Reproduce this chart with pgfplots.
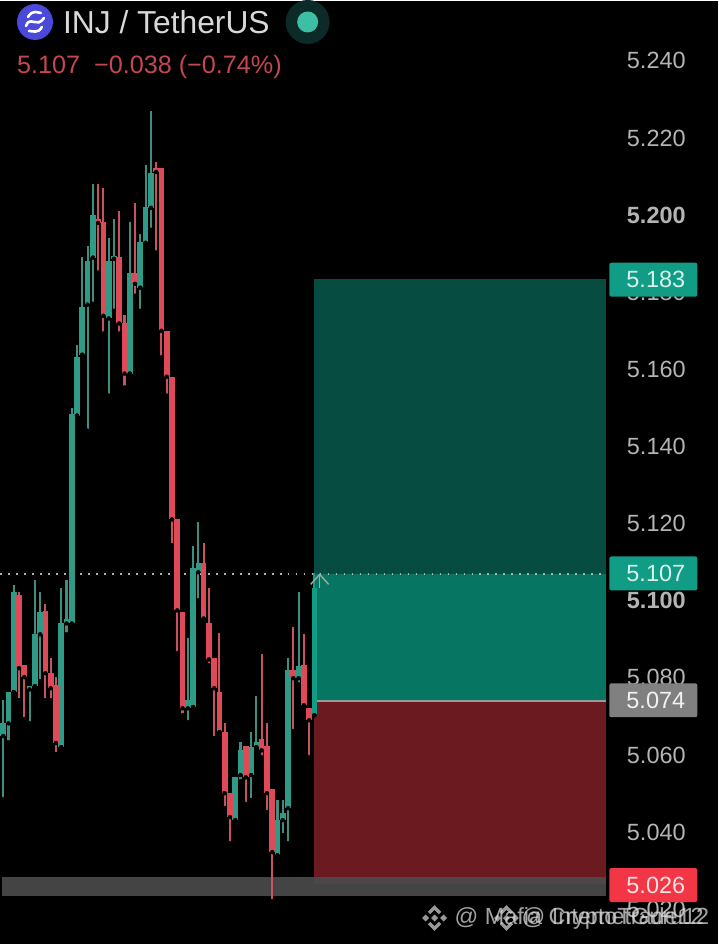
\documentclass[border=0pt]{standalone}
\usepackage{fontspec}
\setmainfont{Liberation Sans}
\usepackage{pgfplots}
\usepackage{pgfplotstable}
\pgfplotsset{compat=1.18}
\definecolor{upB}{HTML}{2F9A86}
\definecolor{upW}{HTML}{3F8F7E}
\definecolor{dnB}{HTML}{DE4A58}
\definecolor{dnW}{HTML}{C9525E}
\definecolor{tpDark}{HTML}{064C40}
\definecolor{tpMid}{HTML}{067562}
\definecolor{slRed}{HTML}{6B1A20}
\definecolor{band}{HTML}{4C4C4C}
\definecolor{tick}{HTML}{B4B4B4}
\definecolor{boxG}{HTML}{109C85}
\definecolor{boxGr}{HTML}{808080}
\definecolor{boxR}{HTML}{F23645}
\definecolor{subt}{HTML}{C4474F}
\definecolor{logoP}{HTML}{4A49D9}
\definecolor{dotO}{HTML}{0C2A28}
\definecolor{dotI}{HTML}{3DBFA5}
\pgfplotstableread{
k low high bot top
0 5.0485 5.0742 5.0649 5.0682
1 5.0633 5.0763 5.0682 5.0763
2 5.0763 5.1042 5.0763 5.1022
5 5.0682 5.0778 5.0770 5.0778
6 5.0778 5.1053 5.0778 5.0913
7 5.0791 5.1022 5.0913 5.0970
11 5.0620 5.1032 5.0620 5.0941
12 5.0913 5.1053 5.0941 5.0952
13 5.0931 5.1501 5.0941 5.1485
14 5.1480 5.1662 5.1480 5.1631
15 5.1638 5.1892 5.1638 5.1763
16 5.1441 5.1921 5.1768 5.1882
17 5.1770 5.2081 5.1890 5.2001
20 5.1532 5.1941 5.1732 5.1882
21 5.1752 5.1991 5.1887 5.1895
24 5.1589 5.1983 5.1589 5.1851
26 5.1752 5.1952 5.1812 5.1931
27 5.1928 5.2131 5.1928 5.2022
28 5.1962 5.2270 5.2019 5.2110
35 5.0685 5.0903 5.0721 5.0742
36 5.0724 5.1141 5.0724 5.1084
37 5.1001 5.1203 5.1074 5.1099
44 5.0423 5.0542 5.0431 5.0542
45 5.0532 5.0633 5.0548 5.0612
47 5.0483 5.0659 5.0548 5.0620
48 5.0620 5.0752 5.0620 5.0633
52 5.0335 5.0483 5.0340 5.0431
53 5.0392 5.0483 5.0431 5.0449
54 5.0371 5.0851 5.0462 5.0820
56 5.0783 5.1022 5.0799 5.0830
}\upT
\pgfplotstableread{
k low high bot top
3 5.0742 5.1022 5.0825 5.1014
4 5.0693 5.0833 5.0802 5.0833
8 5.0742 5.0991 5.0812 5.0973
9 5.0742 5.0851 5.0773 5.0812
10 5.0602 5.0802 5.0631 5.0781
18 5.1851 5.2081 5.1980 5.1991
19 5.1693 5.2071 5.1739 5.1983
22 5.1693 5.2011 5.1719 5.1892
23 5.1553 5.1742 5.1589 5.1721
25 5.1791 5.2032 5.1822 5.1851
29 5.1903 5.2138 5.2112 5.2123
30 5.1631 5.2123 5.1700 5.2123
31 5.1532 5.1700 5.1581 5.1700
32 5.1144 5.1581 5.1211 5.1581
33 5.0864 5.1211 5.0975 5.1211
34 5.0703 5.0970 5.0721 5.0970
38 5.0944 5.1151 5.0954 5.1099
39 5.0833 5.1032 5.0848 5.0941
40 5.0644 5.0851 5.0773 5.0851
41 5.0659 5.0916 5.0659 5.0763
42 5.0462 5.0682 5.0501 5.0659
43 5.0371 5.0501 5.0439 5.0501
46 5.0473 5.0623 5.0542 5.0623
49 5.0594 5.0861 5.0612 5.0641
50 5.0452 5.0682 5.0501 5.0623
51 5.0221 5.0511 5.0348 5.0511
55 5.0662 5.0931 5.0799 5.0820
57 5.0721 5.0913 5.0729 5.0833
58 5.0594 5.0721 5.0690 5.0721
}\dnT
\pgfplotstableread{
k low high bot top
59 5.0703 5.1071 5.0703 5.1032
}\lastT
\pgfplotsset{
  wick/.style={only marks, mark=none, forget plot,
    error bars/.cd, y dir=plus, y explicit, error mark=none,
    error bar style={line width=2.1pt, color=#1}},
  body/.style={only marks, mark=none, forget plot,
    error bars/.cd, y dir=plus, y explicit, error mark=none,
    error bar style={line width=5.7pt, color=#1}},
}
\newcommand{\binlogo}[2]{%
  \begin{scope}[shift={(#1,#2)}]
    \fill[white!80!black] (-12.5,0)--(-9,-3.5)--(-5.5,0)--(-9,3.5)--cycle;
    \fill[white!80!black] (12.5,0)--(9,-3.5)--(5.5,0)--(9,3.5)--cycle;
    \fill[white!80!black] (0,-3.5)--(3.5,0)--(0,3.5)--(-3.5,0)--cycle;
    \draw[white!80!black,line width=3.4pt] (-5.5,-5)--(0,-10.5)--(5.5,-5);
    \draw[white!80!black,line width=3.4pt] (-5.5,5)--(0,10.5)--(5.5,5);
  \end{scope}}
\begin{document}
\begin{tikzpicture}
\fill[black] (0pt,0pt) rectangle (719pt,944pt);
\begin{axis}[
  at={(0pt,0pt)}, anchor=south west,
  scale only axis, width=719pt, height=944pt,
  xmin=-0.606, xmax=135.57, ymin=5.01098, ymax=5.25554,
  axis background/.style={fill=black},
  axis line style={draw=none},
  xtick=\empty,
  ytick={5.24,5.22,5.20,5.18,5.16,5.14,5.12,5.10,5.08,5.06,5.04,5.02},
  yticklabels={5.240,5.220,{\bfseries 5.200},5.180,5.160,5.140,5.120,{\bfseries 5.100},5.080,5.060,5.040,5.020},
  yticklabel pos=right,
  major tick length=0pt,
  tick style={draw=none},
  yticklabel style={anchor=center, xshift=-62pt, inner sep=0pt, outer sep=0pt,
    text=tick, font=\fontsize{23.5}{26}\selectfont},
]
% position tool zones
\addplot[fill=tpDark, draw=none, forget plot] coordinates {(58.9,5.1835)(114.2,5.1835)(114.2,5.107)(58.9,5.107)} --cycle;
\addplot[fill=tpMid, draw=none, forget plot] coordinates {(58.9,5.107)(114.2,5.107)(114.2,5.074)(58.9,5.074)} --cycle;
\addplot[fill=slRed, draw=none, forget plot] coordinates {(58.9,5.074)(114.2,5.074)(114.2,5.0265)(58.9,5.0265)} --cycle;
\addplot[color=black!40!white, line width=1.2pt, forget plot] coordinates {(58.9,5.074)(114.2,5.074)};
% support band
\addplot[fill=band, fill opacity=0.9, draw=none, forget plot] coordinates {(-0.2,5.0283)(114.2,5.0283)(114.2,5.0234)(-0.2,5.0234)} --cycle;
% last price line
\addplot[color=black!30!white, line width=1.6pt, dash pattern=on 1.8pt off 6.2pt, forget plot] coordinates {(-0.606,5.107)(114.2,5.107)};
% wicks
\addplot[wick=upW] table[x=k, y=low, y error plus expr=\thisrow{high}-\thisrow{low}] {\upT};
\addplot[wick=dnW] table[x=k, y=low, y error plus expr=\thisrow{high}-\thisrow{low}] {\dnT};
% bodies
\addplot[body=upB] table[x=k, y=bot, y error plus expr=\thisrow{top}-\thisrow{bot}] {\upT};
\addplot[body=dnB] table[x=k, y=bot, y error plus expr=\thisrow{top}-\thisrow{bot}] {\dnT};
\addplot[body=boxG] table[x=k, y=bot, y error plus expr=\thisrow{top}-\thisrow{bot}] {\lastT};
\addplot[wick=boxG] table[x=k, y=low, y error plus expr=\thisrow{high}-\thisrow{low}] {\lastT};
\end{axis}
% annotations, in the reference's pixel coordinates
\begin{scope}[x=1pt,y=-1pt,shift={(0pt,944pt)}]
  % price boxes
  \foreach \yy/\col/\txt/\tc in {279/boxG/5.183/white!85!boxG,573/boxG/5.107/white!85!boxG,700/boxGr/5.074/white!95!black,885/boxR/5.026/white!85!boxR}{
    \fill[\col, rounded corners=2pt] (610,\yy-17) rectangle (698,\yy+17);
    \node[text=\tc, inner sep=0pt, font=\fontsize{23.5}{26}\selectfont] at (656.5,\yy) {\txt};
  }
  % header
  \fill[logoP] (35,21) circle (18);
  \draw[white,line width=2.6pt,line cap=round] (26,25) .. controls (30,14) and (37,28) .. (44,17);
  \draw[white,line width=2.6pt,line cap=round] (28,16) .. controls (33,8) and (38,12) .. (41,12);
  \draw[white,line width=2.6pt,line cap=round] (29,30) .. controls (33,30) and (38,33) .. (42,26);
  \node[anchor=west, inner sep=0pt, text=white!85!black, font=\fontsize{31.8}{34}\selectfont] at (63,21) {INJ / TetherUS};
  \fill[dotO] (308,21) circle (22);
  \fill[dotI] (308,21) circle (10.5);
  \node[anchor=west, inner sep=0pt, text=subt, font=\fontsize{25.2}{28}\selectfont] at (17,66) {5.107\hspace{14pt}−0.038 (−0.74\%)};
  % cursor chevron
  \draw[black!35!white, line width=1.4pt] (311,584)--(320,574)--(329,584);
  \draw[black!35!white, line width=1.4pt] (320,574)--(320,588);
  % watermarks
  \begin{scope}[opacity=0.75]
    \binlogo{435}{918}
    \binlogo{507}{918}
    \node[anchor=west, inner sep=0pt, text=white!85!black, font=\fontsize{23.4}{26}\selectfont] at (455,918) {@ Mafia CryptoTrade12};
    \node[anchor=west, inner sep=0pt, text=white!85!black, font=\fontsize{23.4}{26}\selectfont] at (522,918) {@ InternetGuru12};
  \end{scope}
\end{scope}
\end{tikzpicture}
\end{document}
